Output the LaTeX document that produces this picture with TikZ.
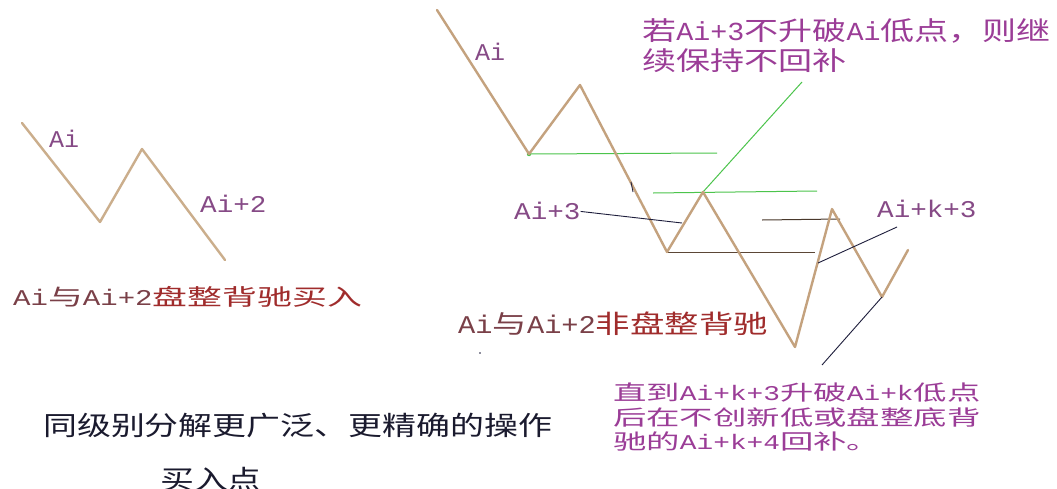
\documentclass[tikz,border=0pt]{standalone}
\usepackage{fontspec}
\usepackage{graphicx}
\setmainfont{Noto Sans CJK SC}
\setmonofont{Liberation Mono}
\newcommand\La[1]{\scalebox{0.833}[1]{\ttfamily #1}}
\definecolor{zigc}{HTML}{C4A27E}
\definecolor{zigl}{HTML}{CBAE8C}
\definecolor{grn}{HTML}{4CC44C}
\definecolor{leadc}{HTML}{1E1E3C}
\definecolor{brnc}{HTML}{5B4636}
\definecolor{purc}{HTML}{9B3D97}
\definecolor{lblc}{HTML}{864A86}
\definecolor{redc}{HTML}{A02C2C}
\definecolor{redg}{HTML}{7A4048}
\definecolor{blk}{HTML}{1A1A2E}
\tikzset{
  zig/.style={draw=zigc, line width=2.4pt, line join=round, line cap=round},
  grnline/.style={draw=grn, line width=1pt},
  leader/.style={draw=leadc, line width=0.9pt},
  lbl/.style={inner sep=0pt, anchor=base west, text=lblc, font=\fontsize{24}{26}\selectfont},
  txt/.style={inner sep=0pt, anchor=base west},
}
\newcommand\lab[1]{\scalebox{1.38}[1]{\La{#1}}}
\begin{document}
\begin{tikzpicture}[x=1pt,y=-1pt]
\useasboundingbox[fill=white] (0,0) rectangle (1057,488);
% left zigzag
\coordinate (l0) at (22,123);
\coordinate (l1) at (100,222);
\coordinate (l2) at (142,149);
\coordinate (l3) at (225,260);
\draw[zig, draw=zigl] (l0) -- (l1) -- (l2) -- (l3);
\node[lbl] (ai1) at (49,147) {\scalebox{1.25}[1]{\La{Ai}}};
\node[lbl] (ai2) at (200,212) {\lab{Ai+2}};
\node[txt, font=\fontsize{22.5}{24}\selectfont] (t1) at (13,305.5)
  {\scalebox{1.55}[1]{{\color{redg}\La{Ai}与\La{Ai+2}}{\color{redc}盘整背驰买入}}};
% right zigzag
\coordinate (r0) at (437,10);
\coordinate (r1) at (529,154);
\coordinate (r2) at (580,85);
\coordinate (r3) at (667,252);
\coordinate (r4) at (703,192);
\coordinate (r5) at (795,347);
\coordinate (r6) at (832,209);
\coordinate (r7) at (882,297);
\coordinate (r8) at (908,250);
% guide lines
\coordinate (g1e) at (717,153);
\coordinate (g2s) at (653,193);
\coordinate (g2e) at (817,191);
\coordinate (g3e) at (802,82);
\draw[grnline] (r1) -- (g1e);
\draw[grnline] (g2s) -- (g2e);
\draw[grnline] (r4) -- (g3e);
\fill[grn] (r1) circle (2.2pt);
\coordinate (h1e) at (815,252);
\draw[draw=brnc, line width=1pt] (r3) -- (h1e);
\coordinate (h2s) at (762,220);
\coordinate (h2e) at (840,219);
\draw[draw=brnc!80!black, line width=1pt] (h2s) -- (h2e);
\draw[zig] (r0) -- (r1) -- (r2) -- (r3) -- (r4) -- (r5) -- (r6) -- (r7) -- (r8);
% labels
\node[lbl] (ai3) at (475,60) {\scalebox{1.25}[1]{\La{Ai}}};
\node[lbl] (ai4) at (514,219) {\lab{Ai+3}};
\node[lbl] (aik) at (877,217) {\lab{Ai+k+3}};
% leaders
\coordinate (p3) at (682,223);
\draw[leader] ([yshift=-1pt]ai4.east) -- (p3);
\coordinate (k3s) at (897,227);
\coordinate (k3e) at (818,263);
\draw[leader] (k3s) -- (k3e);
\coordinate (k4e) at (822,365);
\draw[leader] (r7) -- (k4e);
% small marks
\coordinate (m1) at (631,182);
\coordinate (m2) at (633,192);
\draw[leader, line width=0.8pt] (m1) -- (m2);
\fill[leadc] (480,353) circle (0.9pt);
% texts
\node[txt, text=purc, font=\fontsize{26}{28.5}\selectfont] (top) at (642,40)
  {\scalebox{1.31}[1]{\begin{tabular}[t]{@{}l@{}}若\La{Ai+3}不升破\La{Ai}低点，则继\\续保持不回补\end{tabular}}};
\node[txt, font=\fontsize{25.5}{27}\selectfont] (t2) at (458,333)
  {\scalebox{1.35}[1]{{\color{redg}\La{Ai}与\La{Ai+2}}{\color{redc}非盘整背驰}}};
\node[txt, text=purc, font=\fontsize{21}{22.5}\selectfont] (bot) at (613,400.5)
  {\scalebox{1.59}[1]{\begin{tabular}[t]{@{}l@{}}直到\La{Ai+k+3}升破\La{Ai+k}低点\\后在不创新低或盘整底背\\驰的\La{Ai+k+4}回补。\end{tabular}}};
\node[txt, text=blk, font=\fontsize{26.5}{28}\selectfont] (t3) at (43,435)
  {\scalebox{1.28}[1]{同级别分解更广泛、更精确的操作}};
\node[txt, text=blk, anchor=base, font=\fontsize{26.5}{28}\selectfont] (t4) at (211,489)
  {\scalebox{1.28}[1]{买入点}};
\end{tikzpicture}
\end{document}
